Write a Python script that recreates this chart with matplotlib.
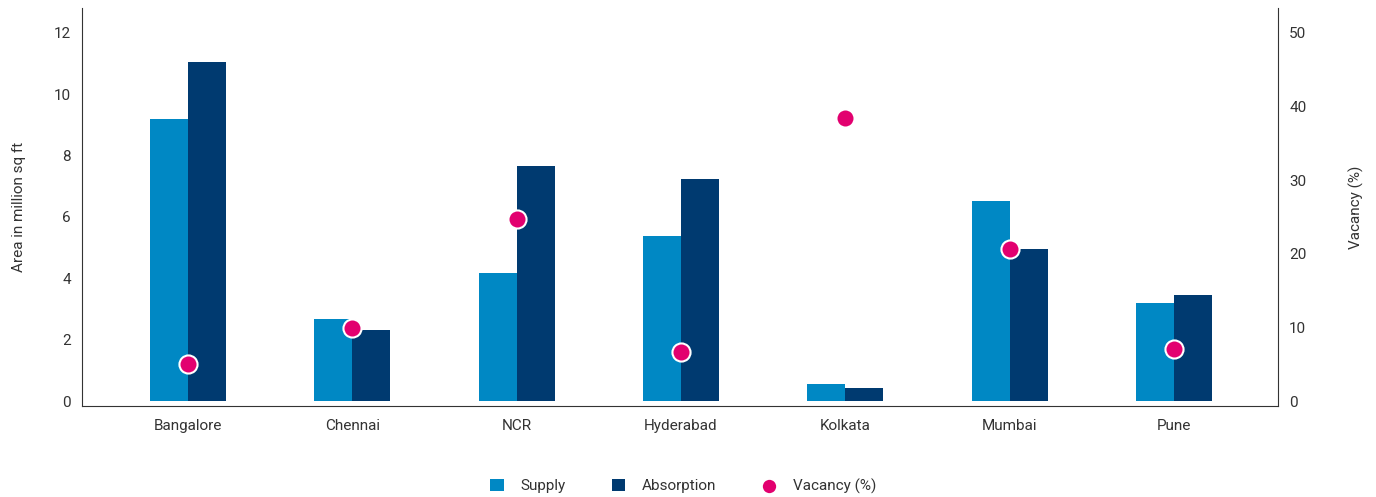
import matplotlib.pyplot as plt
import numpy as np

cities = ['Bangalore', 'Chennai', 'NCR', 'Hyderabad', 'Kolkata', 'Mumbai', 'Pune']
supply = [9.2, 2.67, 4.17, 5.38, 0.55, 6.52, 3.2]
absorption = [11.05, 2.31, 7.66, 7.24, 0.42, 4.96, 3.46]
vacancy = [5.0, 9.9, 24.7, 6.7, 38.5, 20.7, 7.1]

supply_col = '#0088c4'
absorb_col = '#003a70'
vac_col = '#e2006f'
text_col = '#333333'

plt.rcParams['font.family'] = ['Roboto', 'DejaVu Sans']

fig = plt.figure(figsize=(13.76, 4.97), dpi=100)
ax = fig.add_axes([0.0596, 0.183, 0.8692, 0.801])
ax2 = ax.twinx()

x = np.arange(len(cities))
w = 0.231
ax.bar(x - w / 2, supply, w, color=supply_col, label='Supply', zorder=2)
ax.bar(x + w / 2, absorption, w, color=absorb_col, label='Absorption', zorder=2)
ax2.scatter(x, vacancy, s=170, color=vac_col, edgecolor='white', linewidth=1.5,
            label='Vacancy (%)', zorder=3)

ylo, yhi = -0.16, 12.81
ax.set_ylim(ylo, yhi)
ax2.set_ylim(ylo * 50 / 12, yhi * 50 / 12)
ax.set_xlim(-0.645, 6.634)
ax.set_yticks(range(0, 13, 2))
ax2.set_yticks(range(0, 51, 10))
ax.set_xticks(x)
ax.set_xticklabels(cities)

for a in (ax, ax2):
    a.tick_params(length=0, labelsize=11, colors=text_col, pad=8)
    a.spines['top'].set_visible(False)
ax.spines['right'].set_visible(False)
ax2.spines['left'].set_visible(False)
ax2.spines['bottom'].set_visible(False)
for s in ('left', 'bottom'):
    ax.spines[s].set_color('#333333')
    ax.spines[s].set_linewidth(0.8)
ax2.spines['right'].set_color('#333333')
ax2.spines['right'].set_linewidth(0.8)
ax.tick_params(axis='x', pad=9)

ax.set_ylabel('Area in million sq ft', fontsize=11, color=text_col, labelpad=20)
ax2.set_ylabel('Vacancy (%)', fontsize=11, color=text_col, labelpad=30)

h1, l1 = ax.get_legend_handles_labels()
h2, l2 = ax2.get_legend_handles_labels()
fig.legend(h1 + h2, l1 + l2, loc='center', bbox_to_anchor=(0.4965, 0.022), ncol=3,
           frameon=False, fontsize=11, handlelength=0.9, handleheight=0.9,
           columnspacing=3.0, handletextpad=1.1, labelcolor=text_col,
           markerscale=0.85)

fig.savefig('out.png', dpi=100)
